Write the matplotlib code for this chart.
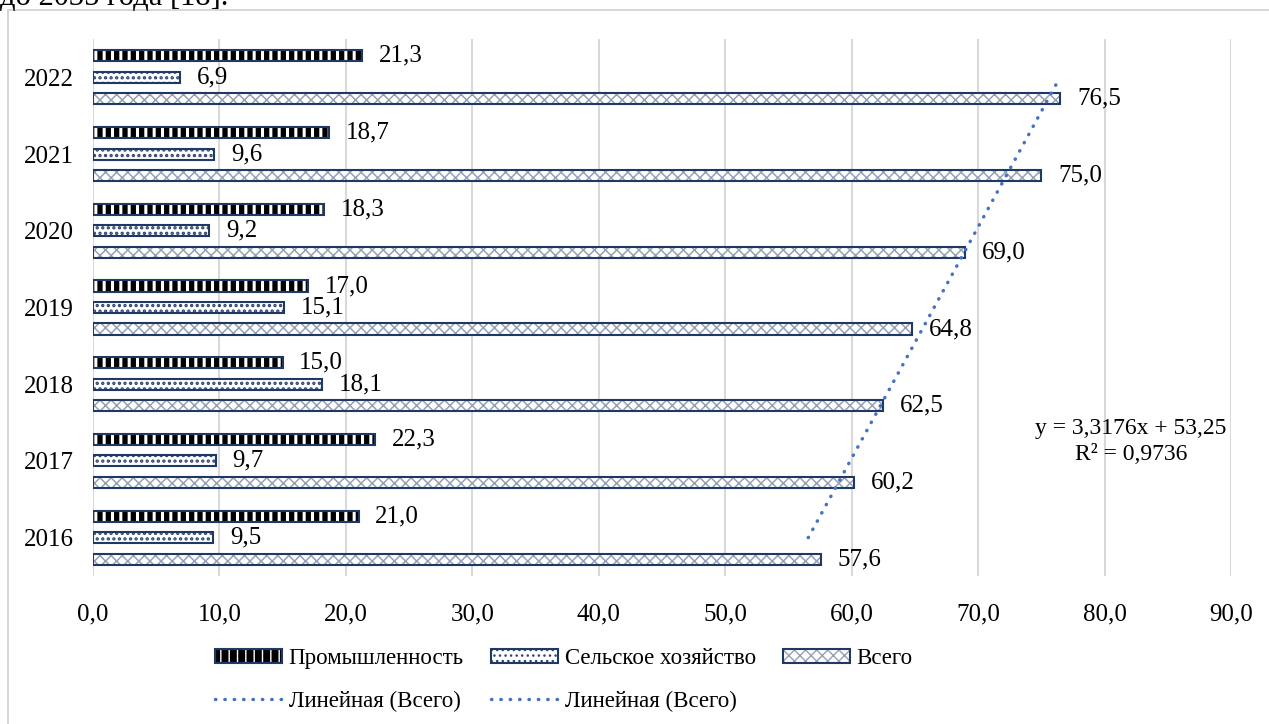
import numpy as np
import matplotlib as mpl
import matplotlib.pyplot as plt
from matplotlib.patches import Rectangle
from matplotlib.lines import Line2D

plt.rcParams['font.family'] = ['Liberation Serif', 'DejaVu Serif']

# data
years = ['2016', '2017', '2018', '2019', '2020', '2021', '2022']
industry = [21.0, 22.3, 15.0, 17.0, 18.3, 18.7, 21.3]
agriculture = [9.5, 9.7, 18.1, 15.1, 9.2, 9.6, 6.9]
total = [57.6, 60.2, 62.5, 64.8, 69.0, 75.0, 76.5]
trend_slope = 3.3176
trend_intercept = 53.25
trend_r2 = 0.9736
x_ticks = np.arange(0, 91, 10)

navy = '#1f3864'
fs = 18
fig = plt.figure(figsize=(12.69, 7.24), dpi=100)
ax = fig.add_axes([93 / 1269, 1 - 576 / 724, (1231 - 93) / 1269, (576 - 39) / 724])

pos = np.arange(len(years))
h = 0.145
off = 0.28

def comma(v, fmt='{:.1f}'):
    return fmt.format(v).replace('.', ',')

series = [
    (industry, pos + off, dict(facecolor='black', edgecolor='white', hatch='||'), 2.2),
    (agriculture, pos, dict(facecolor='white', edgecolor='#2f4470', hatch='...'), 1.6),
    (total, pos - off, dict(facecolor='white', edgecolor='#97a1b5', hatch='xxx'), 1.1),
]
bar_handles = []
for vals, ypos, style, hlw in series:
    with mpl.rc_context({'hatch.linewidth': hlw}):
        ax.barh(ypos, vals, height=h, linewidth=0, zorder=2, **style)
        filled = Rectangle((0, 0), 1, 1, linewidth=0, **style)
    outline = Rectangle((0, 0), 1, 1, linewidth=1.5, edgecolor=navy, facecolor='none')
    bar_handles.append((filled, outline))
    ax.barh(ypos, vals, height=h, facecolor='none', edgecolor=navy, linewidth=1.5, zorder=3)
    for v, y in zip(vals, ypos):
        ax.annotate(comma(v), (v, y), xytext=(12, 0), textcoords='offset points',
                    va='center', ha='left', fontsize=fs)

# linear trend of "Всего", x = 1..7
tx = np.arange(1, len(years) + 1)
ty = trend_slope * tx + trend_intercept
trend_style = dict(color='#4472c4', linewidth=2.5, linestyle=(0, (0.1, 2.6)), dash_capstyle='round')
ax.plot(ty, pos, zorder=4, **trend_style)
fig.text(1131 / 1269, 1 - 428 / 724,
         'y = ' + comma(trend_slope, '{:.4f}') + 'x + ' + comma(trend_intercept, '{:.2f}'),
         ha='center', va='center', fontsize=17)
fig.text(1131 / 1269, 1 - 455 / 724, 'R² = ' + comma(trend_r2, '{:.4f}'),
         ha='center', va='center', fontsize=17)

ax.set_xlim(0, 90)
ax.set_ylim(-0.5, 6.5)
ax.set_xticks(x_ticks)
ax.set_xticklabels([comma(float(t)) for t in x_ticks], fontsize=fs)
ax.set_yticks(pos)
ax.set_yticklabels(years, fontsize=fs)
ax.tick_params(length=0)
ax.tick_params(axis='x', pad=20)
ax.tick_params(axis='y', pad=14)
ax.grid(axis='x', color='#d9d9d9', linewidth=1.5, zorder=0)
ax.set_axisbelow(True)
for s in ['top', 'right', 'bottom', 'left']:
    ax.spines[s].set_visible(False)

trend_handle = Line2D([0], [0], **trend_style)
leg_handles = [bar_handles[0], trend_handle, bar_handles[1], trend_handle, bar_handles[2]]
leg_labels = ['Промышленность', 'Линейная (Всего)', 'Сельское хозяйство', 'Линейная (Всего)', 'Всего']
fig.legend(leg_handles, leg_labels, ncol=3, loc='center', bbox_to_anchor=(564 / 1269, 1 - 680 / 724),
           frameon=False, fontsize=16.5, handlelength=2.9, handleheight=0.55, handletextpad=0.3,
           columnspacing=1.2, labelspacing=0.95)

# chart border and the cut-off line of document text above it
fig.patches.append(Rectangle((8 / 1269, -0.1), 1.2, 1.1 - 10 / 724, transform=fig.transFigure,
                             fill=False, edgecolor='#d0d0d0', linewidth=1.2))
fig.text(0.0, 1 - 5 / 724, 'до 2035 года [18].', fontsize=22, va='baseline', ha='left')

fig.savefig('out.png', dpi=100)
